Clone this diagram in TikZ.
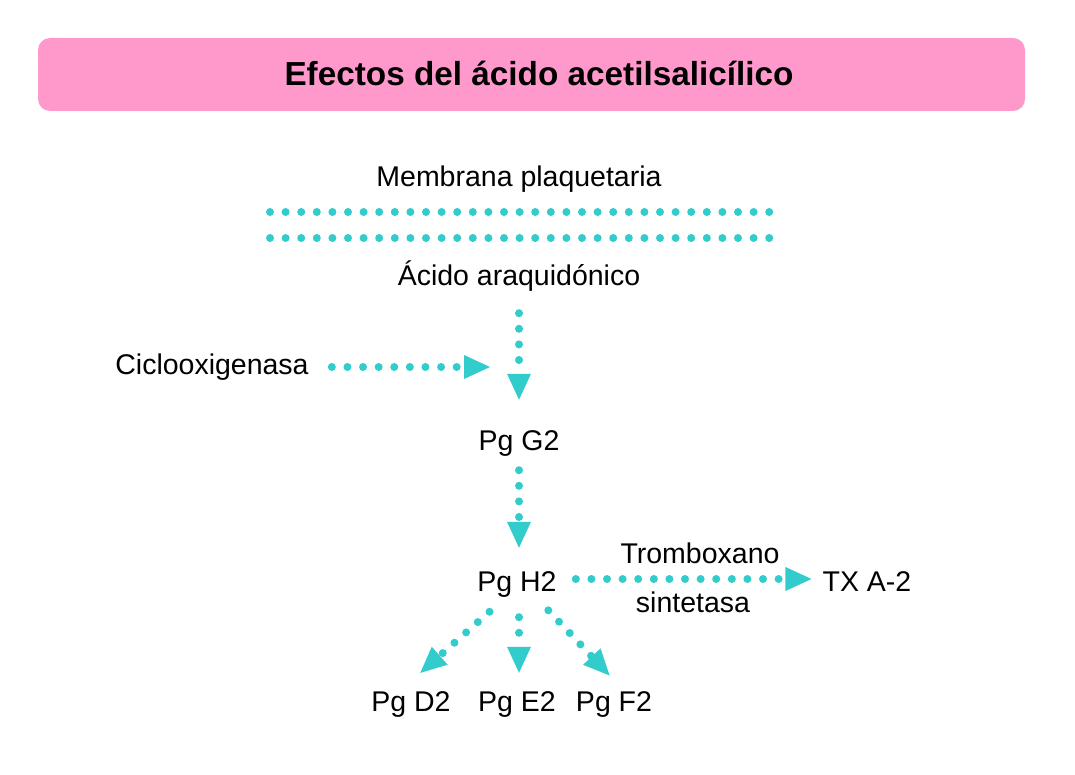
\documentclass[tikz,border=0pt]{standalone}
\usepackage{fontspec}
\setmainfont{Liberation Sans}
\usetikzlibrary{arrows.meta}
\definecolor{teal1}{HTML}{33CCCC}
\definecolor{pink1}{HTML}{FF99CC}
\tikzset{
  lbl/.style={font=\fontsize{28.5}{32}\selectfont, inner sep=0pt, text height=20pt, text depth=6pt, anchor=base},
  flow/.style={draw=teal1, line width=8pt, line cap=round, dash pattern=on 0pt off 15.6pt,
    -{Triangle[length=26pt,width=24pt,line width=0pt,fill=teal1,color=teal1]}},
  memb/.style={draw=teal1, line width=8pt, line cap=round, dash pattern=on 0pt off 15.6pt}
}
\begin{document}
\begin{tikzpicture}[x=1pt,y=-1pt]
\useasboundingbox (0,0) rectangle (1075,775);
\fill[white] (0,0) rectangle (1075,775);
\node[fill=pink1, rounded corners=12pt, minimum width=987pt, minimum height=73pt, inner sep=0pt] (titlebox) at (531.5,74.5) {};
\node[font=\fontsize{33.3}{36}\selectfont\bfseries, inner sep=0pt, anchor=base] (title) at (539,86) {Efectos del ácido acetilsalicílico};
\node[lbl] (membrana) at (519,187) {Membrana plaquetaria};
\coordinate (m1a) at (270,212);
\coordinate (m1b) at (770,212);
\coordinate (m2a) at (270,238);
\coordinate (m2b) at (770,238);
\draw[memb] (m1a) -- (m1b);
\draw[memb] (m2a) -- (m2b);
\node[lbl] (acido) at (519,286) {Ácido araquidónico};
\node[lbl] (ciclo) at (212,374) {Ciclooxigenasa};
\node[lbl] (pgg2) at (519,450) {Pg G2};
\node[lbl] (pgh2) at (517,591) {Pg H2};
\node[lbl] (trombo) at (700,563) {Tromboxano};
\node[lbl] (sint) at (693,612) {sintetasa};
\node[lbl] (txa) at (867,591) {TX A-2};
\node[lbl] (pgd2) at (411,711) {Pg D2};
\node[lbl] (pge2) at (517,711) {Pg E2};
\node[lbl] (pgf2) at (614,711) {Pg F2};
\draw[flow, shorten <=21pt, shorten >=30pt] (acido.south) -- (acido.south |- pgg2.north);
\draw[flow, shorten <=23pt, shorten >=29pt] (ciclo.east) -- (acido.south |- ciclo.east);
\draw[flow, shorten <=14pt, shorten >=23pt] (pgg2.south) -- (pgg2.south |- pgh2.north);
\draw[flow, shorten <=19pt, shorten >=11pt] ([yshift=5pt]pgh2.east) -- ([yshift=5pt]txa.west);
\draw[flow, shorten <=22pt, shorten >=27pt] ([xshift=-11pt]pgh2.south) -- ([xshift=-11pt]pgd2.north);
\draw[flow, shorten <=20pt, shorten >=18pt] ([xshift=2pt]pgh2.south) -- ([xshift=2pt]pge2.north);
\draw[flow, shorten <=18pt, shorten >=21pt] ([xshift=19pt]pgh2.south) -- ([xshift=10pt]pgf2.north);
\end{tikzpicture}
\end{document}
